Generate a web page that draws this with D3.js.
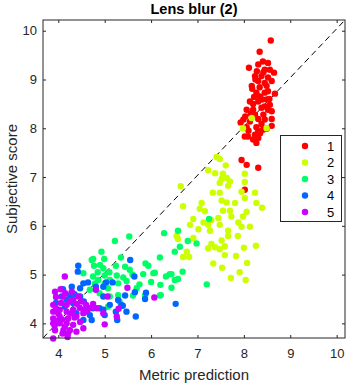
<!DOCTYPE html>
<html><head><meta charset="utf-8">
<script src="https://cdn.jsdelivr.net/npm/d3@7"></script>
<style>
html,body{margin:0;padding:0;background:#fff;}
svg{display:block;font-family:"Liberation Sans",Arial,Helvetica,sans-serif;}
</style></head>
<body>
<svg id="chart" width="351" height="385"></svg>
<script>
const title = "Lens blur (2)";
const xLabel = "Metric prediction";
const yLabel = "Subjective score";
const xTicks = [4,5,6,7,8,9,10];
const yTicks = [4,5,6,7,8,9,10];
const legendLabels = ["1","2","3","4","5"];
const groupColors = ["#ff0000","#ccff00","#00ff66","#0066ff","#cc00ff"];

const group1 = [[8.58,9.80],[8.34,9.57],[8.11,9.24],[8.31,9.31],[8.52,9.34],[8.28,9.17],[8.45,9.20],[8.65,9.14],[8.56,9.20],[8.24,9.07],[8.38,9.07],[8.52,9.04],[8.31,8.97],[8.45,8.93],[8.60,8.97],[8.17,8.87],[8.34,8.84],[8.49,8.87],[8.27,8.73],[8.45,8.73],[8.52,8.76],[8.13,8.55],[8.31,8.55],[8.49,8.59],[8.56,8.48],[8.06,8.38],[8.20,8.38],[8.38,8.42],[8.52,8.38],[8.60,8.35],[8.24,8.28],[8.42,8.28],[7.99,8.18],[8.13,8.14],[8.31,8.19],[8.45,8.18],[8.60,8.19],[7.93,8.12],[8.06,8.02],[8.27,8.02],[8.38,8.09],[8.49,7.99],[8.09,7.83],[8.24,7.87],[8.31,7.94],[8.20,7.77],[8.27,7.70],[8.31,7.80],[8.02,7.83],[7.95,7.35],[8.06,7.25],[8.31,7.19],[8.02,6.74],[8.39,8.59],[8.22,8.64],[8.41,9.37],[8.18,8.81],[8.03,8.24],[8.41,7.97],[8.67,8.71],[8.15,8.30],[8.35,8.65],[8.45,8.45],[8.25,9.00],[8.55,8.60],[8.35,7.90],[8.10,7.95],[8.60,8.05],[8.20,8.50],[8.42,9.15]];

const group2 = [[8.17,8.21],[7.98,8.00],[8.49,8.00],[7.41,7.41],[7.48,7.37],[7.61,7.24],[7.23,7.14],[7.38,7.08],[7.55,7.07],[7.52,6.96],[7.70,6.91],[8.02,7.07],[8.02,6.90],[6.64,6.81],[7.48,6.88],[7.66,6.82],[7.33,6.68],[7.48,6.68],[7.95,6.70],[8.24,6.68],[8.02,6.57],[8.27,6.47],[6.69,6.40],[7.09,6.47],[7.05,6.35],[7.16,6.30],[7.52,6.52],[7.63,6.48],[7.81,6.47],[7.55,6.31],[7.70,6.31],[8.06,6.29],[7.98,6.19],[7.73,6.19],[7.45,6.16],[7.30,6.12],[6.91,6.14],[7.13,6.07],[7.23,6.02],[7.48,6.02],[7.88,6.07],[7.95,5.98],[8.13,5.98],[6.84,6.02],[7.02,5.93],[7.27,5.90],[7.66,5.90],[7.66,5.79],[6.55,5.79],[6.58,5.73],[6.91,5.75],[7.52,5.70],[7.23,5.54],[7.38,5.56],[7.48,5.52],[7.59,5.58],[7.30,5.63],[6.77,5.47],[6.69,5.36],[6.82,5.36],[7.59,5.40],[7.34,5.23],[7.63,6.98],[7.87,5.79],[8.00,5.55],[7.83,5.38],[8.07,5.24],[7.91,5.05],[8.04,4.89],[7.72,4.93],[8.26,5.59],[7.53,5.14],[8.39,6.37]];

const group3 = [[6.28,5.85],[6.58,5.90],[5.53,5.78],[5.22,5.69],[6.79,5.69],[6.98,5.64],[6.62,5.57],[6.51,5.47],[4.93,5.47],[4.75,5.32],[4.99,5.32],[6.19,5.35],[5.88,5.23],[5.94,5.18],[5.24,5.18],[5.44,5.16],[4.77,5.18],[4.97,5.13],[5.54,5.10],[6.68,5.06],[6.05,5.03],[5.83,5.01],[6.44,5.01],[6.32,4.96],[6.58,4.91],[5.26,4.98],[5.40,4.94],[5.00,4.98],[4.86,4.89],[5.47,4.87],[5.11,4.89],[5.29,4.82],[6.20,4.79],[6.44,4.73],[7.20,4.80],[5.69,4.72],[5.29,4.58],[5.61,4.57],[5.87,4.57],[6.19,4.57],[5.11,4.55],[5.07,4.34],[4.72,5.30],[4.90,5.20],[4.54,5.03],[4.75,4.96],[4.79,4.82],[5.00,4.82],[5.07,4.72],[4.89,4.62],[4.68,4.69],[6.08,5.04],[6.40,5.01],[6.51,4.89],[6.21,4.58],[5.32,4.45],[7.25,6.14],[5.10,5.05],[5.35,5.35],[4.85,5.05],[5.60,5.00],[6.00,4.85],[5.75,4.80]];

const group4 = [[5.55,5.30],[5.64,4.96],[5.03,4.84],[5.17,4.84],[4.81,4.75],[4.97,4.75],[5.89,4.63],[5.65,4.64],[5.44,4.57],[5.29,4.48],[4.97,4.55],[5.36,4.38],[5.11,4.38],[6.53,4.40],[5.87,4.50],[4.75,4.31],[4.43,5.18],[4.42,5.06],[4.64,4.84],[4.54,4.82],[4.29,4.75],[4.47,4.72],[4.25,4.58],[4.07,4.55],[4.18,4.48],[4.47,4.55],[4.32,4.41],[4.14,4.34],[4.89,4.31],[4.97,4.28],[4.57,4.24],[4.68,4.17],[4.54,4.07],[4.72,4.07],[4.39,4.21],[5.39,4.36],[5.24,4.24],[5.47,4.24],[5.67,4.14],[5.27,4.07],[5.00,4.17],[3.95,4.42],[4.35,4.60],[4.55,4.45],[4.10,4.70]];

const group5 = [[4.14,4.96],[5.49,4.73],[4.81,4.69],[5.06,4.55],[6.07,4.53],[5.26,4.14],[4.97,4.21],[5.00,3.98],[3.93,4.65],[4.11,4.55],[4.29,4.65],[4.43,4.55],[4.32,4.48],[4.50,4.45],[4.18,4.38],[3.89,4.38],[3.89,4.24],[4.03,4.28],[4.18,4.24],[4.32,4.28],[3.89,4.10],[4.03,4.14],[4.21,4.10],[4.39,4.14],[4.54,4.28],[4.68,4.31],[4.83,4.31],[3.89,4.00],[4.03,4.00],[4.18,4.00],[4.32,3.97],[4.47,4.03],[3.93,3.86],[4.11,3.86],[4.25,3.86],[4.39,3.83],[4.54,3.90],[3.89,3.69],[3.95,4.54],[4.21,3.79],[4.09,3.79],[4.54,4.21],[3.95,4.30],[4.06,4.42],[4.00,4.20],[3.92,3.95],[4.08,4.08],[4.14,3.93],[4.26,4.20],[4.35,4.12],[4.46,4.32],[4.60,4.38],[4.25,4.45],[4.40,4.40],[3.98,4.05],[4.20,3.72],[4.62,4.25],[4.75,4.40],[5.30,4.30],[4.05,4.70],[4.15,4.62]];

const groups = [group1, group2, group3, group4, group5];

const svg = d3.select("#chart");
const L = 43, R = 345, T = 20, B = 338;
const x = d3.scaleLinear().domain([3.67, 10.18]).range([L, R]);
const y = d3.scaleLinear().domain([3.70, 10.22]).range([B, T]);
const axisColor = "#262626";

svg.append("line")
  .attr("x1", x(x.domain()[0])).attr("y1", y(y.domain()[0]))
  .attr("x2", x(x.domain()[1])).attr("y2", y(y.domain()[1]))
  .attr("stroke", "#000").attr("stroke-width", 1)
  .attr("stroke-dasharray", "6,4");

groups.forEach((g, i) => {
  svg.append("g").selectAll("circle").data(g).join("circle")
    .attr("cx", d => x(d[0])).attr("cy", d => y(d[1]))
    .attr("r", 3.2).attr("fill", groupColors[i]);
});

function styleAxis(sel){
  sel.select(".domain").remove();
  sel.selectAll(".tick line").attr("stroke", axisColor);
  sel.selectAll(".tick text").attr("fill", axisColor)
    .style("font-size","13px").style("font-family","'Liberation Sans',Arial,sans-serif");
}
svg.append("g").attr("transform", `translate(0,${B})`)
  .call(d3.axisBottom(x).tickValues(xTicks).tickSizeInner(-3).tickSizeOuter(0).tickPadding(11).tickFormat(d3.format("d")))
  .call(styleAxis);
svg.append("g").attr("transform", `translate(0,${T})`)
  .call(d3.axisTop(x).tickValues(xTicks).tickSizeInner(-3).tickSizeOuter(0).tickFormat(""))
  .call(styleAxis);
svg.append("g").attr("transform", `translate(${L},0)`)
  .call(d3.axisLeft(y).tickValues(yTicks).tickSizeInner(-3).tickSizeOuter(0).tickPadding(6).tickFormat(d3.format("d")))
  .call(styleAxis);
svg.append("g").attr("transform", `translate(${R},0)`)
  .call(d3.axisRight(y).tickValues(yTicks).tickSizeInner(-3).tickSizeOuter(0).tickFormat(""))
  .call(styleAxis);

svg.append("rect").attr("x", L).attr("y", T).attr("width", R - L).attr("height", B - T)
  .attr("fill", "none").attr("stroke", axisColor).attr("stroke-width", 1);

const lg = svg.append("g");
lg.append("rect").attr("x", 280.5).attr("y", 135.5).attr("width", 61).attr("height", 86)
  .attr("fill", "#fff").attr("stroke", axisColor).attr("stroke-width", 1);
legendLabels.forEach((lab, i) => {
  const cy = 146 + i * 16.5;
  lg.append("circle").attr("cx", 305).attr("cy", cy).attr("r", 3.2).attr("fill", groupColors[i]);
  lg.append("text").attr("x", 327).attr("y", cy + 4.7).text(lab)
    .attr("fill", "#000").style("font-size", "13px");
});

svg.append("text").attr("x", (L + R) / 2).attr("y", 13.5).attr("text-anchor", "middle")
  .style("font-size", "14.5px").style("font-weight", "bold").attr("fill", "#000").text(title);
svg.append("text").attr("x", (L + R) / 2).attr("y", 379.5).attr("text-anchor", "middle")
  .style("font-size", "15px").attr("fill", axisColor).text(xLabel);
svg.append("text").attr("transform", `translate(17,${(T + B) / 2}) rotate(-90)`).attr("text-anchor", "middle")
  .style("font-size", "15px").attr("fill", axisColor).text(yLabel);
</script>
</body></html>
